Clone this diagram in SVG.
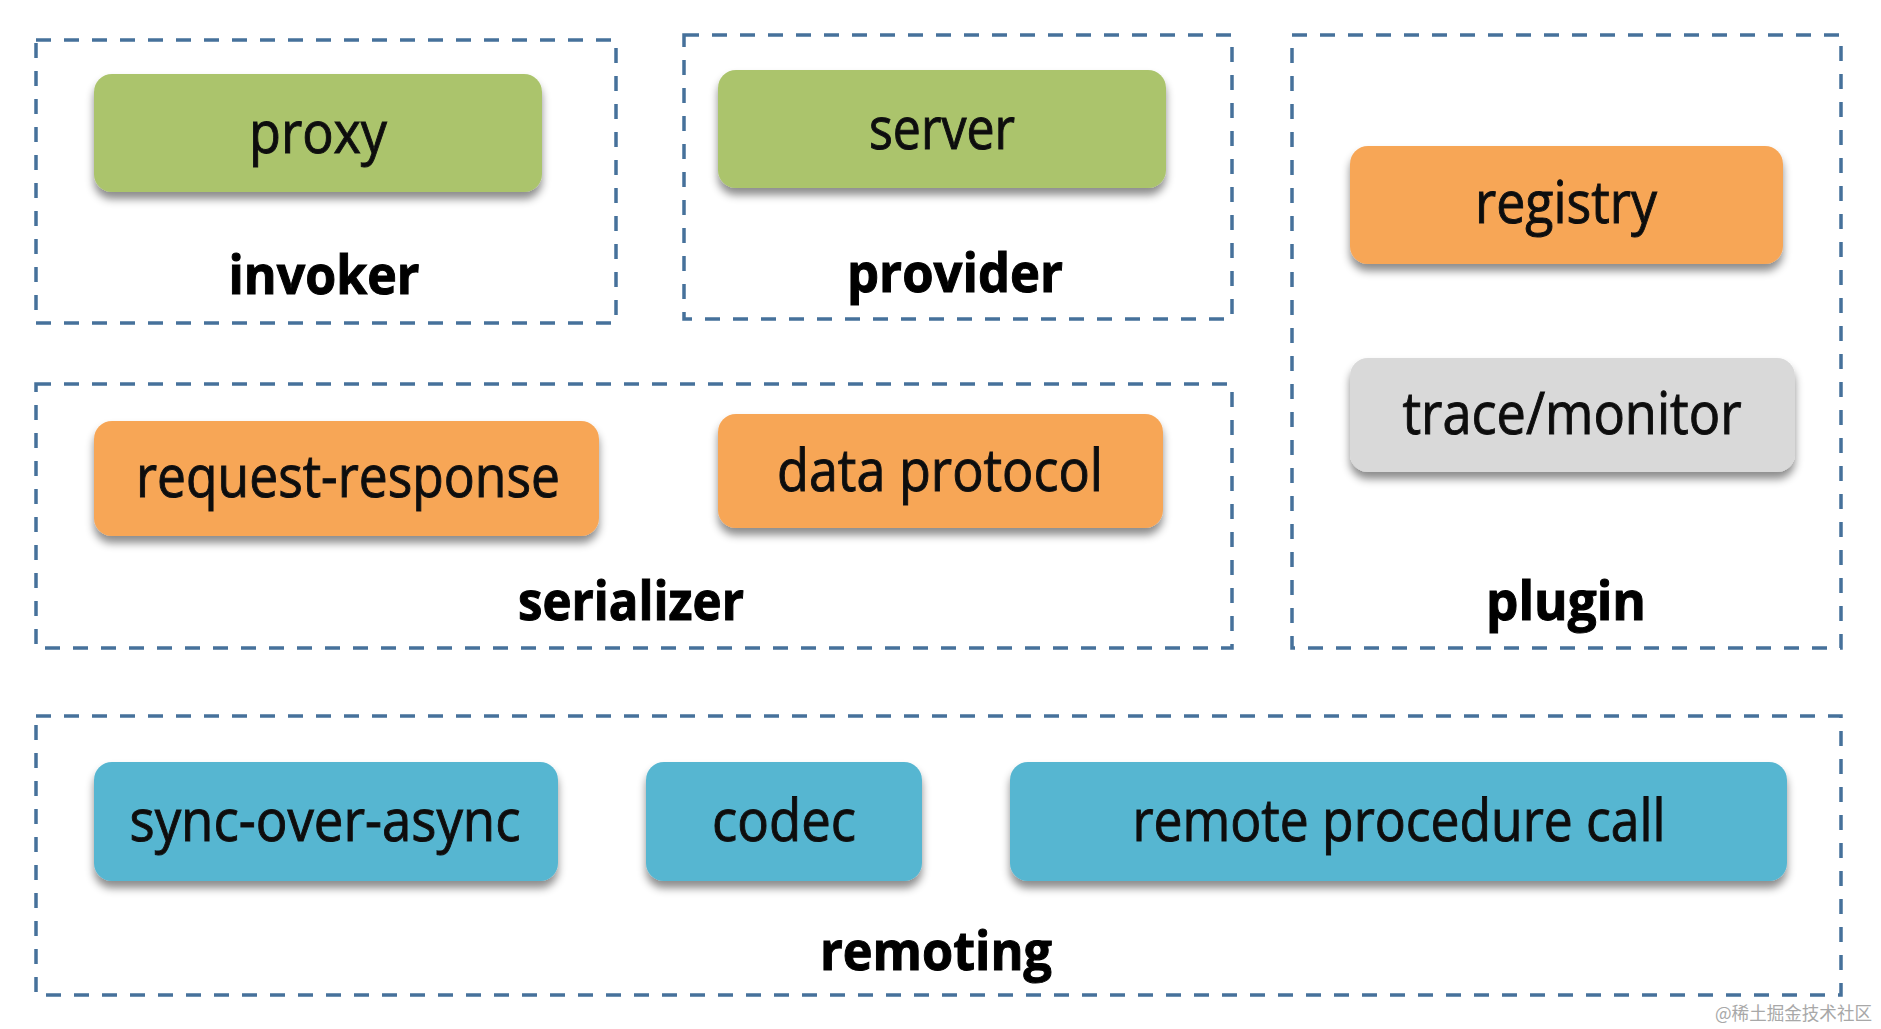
<svg xmlns="http://www.w3.org/2000/svg" width="1881" height="1029" viewBox="0 0 1881 1029">
<defs>
<filter id="sh" x="-10%" y="-20%" width="120%" height="160%">
<feDropShadow dx="0" dy="7" stdDeviation="4" flood-color="#000" flood-opacity="0.45"/>
</filter>
</defs>
<style>
.grp{fill:none;stroke:#46719b;stroke-width:3.5;stroke-dasharray:15 13}
.node{filter:url(#sh)}
.green{fill:#abc46c}
.orange{fill:#f7a657}
.grey{fill:#d9d9d9}
.blue{fill:#56b6d1}
.t{font-family:"Open Sans","Liberation Sans",sans-serif;font-size:58px;fill:#111;stroke:#111;stroke-width:1;text-anchor:middle}
.lbl{font-family:"Open Sans","Liberation Sans",sans-serif;font-size:53px;font-weight:bold;fill:#000;stroke:#000;stroke-width:1;text-anchor:middle}
.wm{font-family:"Noto Sans CJK SC",sans-serif;font-size:18px;fill:#a8a8a8}
</style>
<rect width="1881" height="1029" fill="#fff"/>
<g id="groups">
<g id="invoker"><rect class="grp" x="36" y="40" width="580" height="283"/><text class="lbl" x="324" y="294" textLength="191" lengthAdjust="spacingAndGlyphs">invoker</text></g>
<g id="provider"><rect class="grp" x="684" y="35" width="548" height="284"/><text class="lbl" x="955" y="292" textLength="216" lengthAdjust="spacingAndGlyphs">provider</text></g>
<g id="plugin"><rect class="grp" x="1292" y="35" width="549" height="613"/><text class="lbl" x="1566" y="620" textLength="160" lengthAdjust="spacingAndGlyphs">plugin</text></g>
<g id="serializer"><rect class="grp" x="36" y="384" width="1196" height="264"/><text class="lbl" x="631" y="620" textLength="226" lengthAdjust="spacingAndGlyphs">serializer</text></g>
<g id="remoting"><rect class="grp" x="36" y="716" width="1805" height="279"/><text class="lbl" x="936" y="970" textLength="232" lengthAdjust="spacingAndGlyphs">remoting</text></g>
</g>
<g id="proxy" class="node"><rect class="green" x="94" y="74" width="448" height="118" rx="18"/><text class="t" x="318" y="153" textLength="138" lengthAdjust="spacingAndGlyphs">proxy</text></g>
<g id="server" class="node"><rect class="green" x="718" y="70" width="448" height="118" rx="18"/><text class="t" x="942" y="149" textLength="146" lengthAdjust="spacingAndGlyphs">server</text></g>
<g id="registry" class="node"><rect class="orange" x="1350" y="146" width="433" height="118" rx="18"/><text class="t" x="1566" y="223" textLength="182" lengthAdjust="spacingAndGlyphs">registry</text></g>
<g id="trace-monitor" class="node"><rect class="grey" x="1350" y="358" width="445" height="114" rx="18"/><text class="t" x="1572" y="434" textLength="339" lengthAdjust="spacingAndGlyphs">trace/monitor</text></g>
<g id="request-response" class="node"><rect class="orange" x="94" y="421" width="505" height="115" rx="18"/><text class="t" x="348" y="497" textLength="424" lengthAdjust="spacingAndGlyphs">request-response</text></g>
<g id="data-protocol" class="node"><rect class="orange" x="718" y="414" width="445" height="114" rx="18"/><text class="t" x="940" y="491" textLength="326" lengthAdjust="spacingAndGlyphs">data protocol</text></g>
<g id="sync-over-async" class="node"><rect class="blue" x="94" y="762" width="464" height="119" rx="18"/><text class="t" x="325" y="841" textLength="391" lengthAdjust="spacingAndGlyphs">sync-over-async</text></g>
<g id="codec" class="node"><rect class="blue" x="646" y="762" width="276" height="119" rx="18"/><text class="t" x="784" y="841" textLength="144" lengthAdjust="spacingAndGlyphs">codec</text></g>
<g id="remote-procedure-call" class="node"><rect class="blue" x="1010" y="762" width="777" height="119" rx="18"/><text class="t" x="1399" y="841" textLength="533" lengthAdjust="spacingAndGlyphs">remote procedure call</text></g>
<g id="connectors"></g>
<text class="wm" x="1715" y="1020" textLength="157" lengthAdjust="spacingAndGlyphs">@稀土掘金技术社区</text>
</svg>
